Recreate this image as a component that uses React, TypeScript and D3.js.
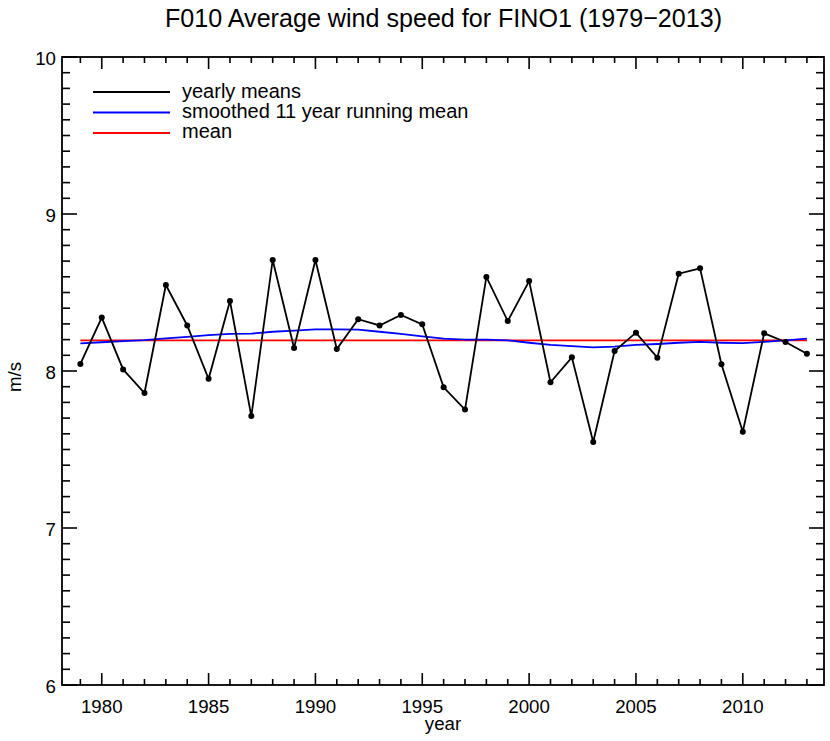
import React from "react";
import * as d3 from "d3";

const years: number[] = d3.range(1979, 2014);
const yearlyMeans: number[] = [
  8.045, 8.34, 8.01, 7.86, 8.548, 8.29, 7.95, 8.446, 7.713, 8.707,
  8.146, 8.707, 8.14, 8.33, 8.29, 8.357, 8.297, 7.896, 7.754, 8.599,
  8.318, 8.573, 7.928, 8.087, 7.548, 8.127, 8.244, 8.085, 8.62, 8.654,
  8.043, 7.613, 8.24, 8.185, 8.11,
];
const smoothed: number[] = [
  8.176, 8.183, 8.19, 8.197, 8.208, 8.218, 8.228, 8.236, 8.238, 8.25,
  8.257, 8.265, 8.265, 8.263, 8.25, 8.236, 8.22, 8.206, 8.2, 8.2,
  8.195, 8.18, 8.166, 8.158, 8.15, 8.155, 8.166, 8.172, 8.18, 8.185,
  8.18, 8.178, 8.185, 8.195, 8.206,
];
const meanValue = 8.195;
const xMajorTicks: number[] = [1980, 1985, 1990, 1995, 2000, 2005, 2010];
const yMajorTicks: number[] = [6, 7, 8, 9, 10];
const legendLabels: string[] = ["yearly means", "smoothed 11 year running mean", "mean"];
const legendColors: string[] = ["#000000", "#0000ff", "#ff0000"];
const title = "F010 Average wind speed for FINO1 (1979\u22122013)";

const W = 830, H = 741;
const L = 62, R = 824, T = 57, B = 685;
const FONT = "'Liberation Sans', Arial, Helvetica, sans-serif";

export default function App() {
  const x = d3.scaleLinear().domain([1978.14, 2013.8]).range([L, R]);
  const y = d3.scaleLinear().domain([6, 10]).range([B, T]);
  const xMinor = d3.range(1979, 2014).filter((v) => v % 5 !== 0);
  const yMinor = d3.range(60, 101).map((v) => v / 10).filter((v) => Math.abs(v - Math.round(v)) > 1e-6);

  const line = d3.line<number>().x((_, i) => x(years[i])).y((d) => y(d));
  const meanLine = d3.line<number>().x((d) => x(d)).y(() => y(meanValue));

  return (
    <svg width={W} height={H} style={{ position: "absolute", left: 0, top: 0, background: "#fff" }} fontFamily={FONT}>
      <rect x={0} y={0} width={W} height={H} fill="#fff" />

      <text x={443.5} y={27} textAnchor="middle" fontSize={26} fill="#000"
        textLength={557} lengthAdjust="spacingAndGlyphs">{title}</text>

      {/* data */}
      <path d={meanLine([years[0], years[years.length - 1]]) || ""} fill="none" stroke="#ff0000" strokeWidth={1.8} />
      <path d={line(smoothed) || ""} fill="none" stroke="#0000ff" strokeWidth={1.8} />
      <path d={line(yearlyMeans) || ""} fill="none" stroke="#000" strokeWidth={1.8} />
      {yearlyMeans.map((v, i) => (
        <circle key={i} cx={x(years[i])} cy={y(v)} r={3} fill="#000" />
      ))}

      {/* frame */}
      <rect x={L} y={T} width={R - L} height={B - T} fill="none" stroke="#000" strokeWidth={1.8} />

      {/* x ticks */}
      {xMajorTicks.map((t) => (
        <g key={"xM" + t}>
          <line x1={x(t)} x2={x(t)} y1={B} y2={B - 12} stroke="#000" strokeWidth={1.6} />
          <line x1={x(t)} x2={x(t)} y1={T} y2={T + 12} stroke="#000" strokeWidth={1.6} />
          <text x={x(t)} y={713} textAnchor="middle" fontSize={18.7}>{t}</text>
        </g>
      ))}
      {xMinor.map((t) => (
        <g key={"xm" + t}>
          <line x1={x(t)} x2={x(t)} y1={B} y2={B - 6} stroke="#000" strokeWidth={1.6} />
          <line x1={x(t)} x2={x(t)} y1={T} y2={T + 6} stroke="#000" strokeWidth={1.6} />
        </g>
      ))}
      {/* y ticks */}
      {yMajorTicks.map((t) => (
        <g key={"yM" + t}>
          <line x1={L} x2={L + 15} y1={y(t)} y2={y(t)} stroke="#000" strokeWidth={1.6} />
          <line x1={R} x2={R - 15} y1={y(t)} y2={y(t)} stroke="#000" strokeWidth={1.6} />
          <text x={56} y={y(t) + 8} textAnchor="end" fontSize={18.7}>{t}</text>
        </g>
      ))}
      {yMinor.map((t) => (
        <g key={"ym" + t}>
          <line x1={L} x2={L + 8} y1={y(t)} y2={y(t)} stroke="#000" strokeWidth={1.6} />
          <line x1={R} x2={R - 8} y1={y(t)} y2={y(t)} stroke="#000" strokeWidth={1.6} />
        </g>
      ))}

      <text x={(L + R) / 2} y={730} textAnchor="middle" fontSize={18.7}>year</text>
      <text transform={`translate(21, 377) rotate(-90)`} textAnchor="middle" fontSize={18.7}>m/s</text>

      {/* legend */}
      {legendLabels.map((lab, i) => (
        <g key={lab}>
          <line x1={93} x2={170} y1={92 + i * 20.5} y2={92 + i * 20.5} stroke={legendColors[i]} strokeWidth={1.8} />
          <text x={182} y={98 + i * 20} fontSize={20}>{lab}</text>
        </g>
      ))}
    </svg>
  );
}
